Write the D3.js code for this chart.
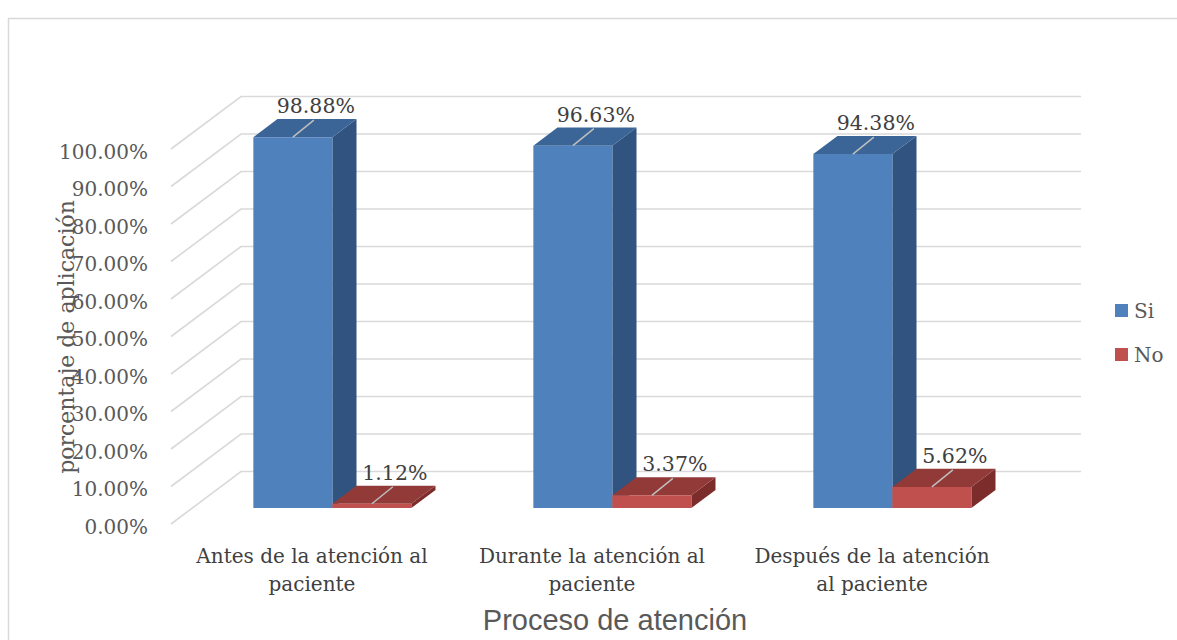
<!DOCTYPE html>
<html>
<head>
<meta charset="utf-8">
<script src="https://cdn.jsdelivr.net/npm/d3@7"></script>
<style>
  html, body { margin: 0; padding: 0; background: #ffffff; }
  svg { display: block; }
</style>
</head>
<body>
<svg id="chart" width="1177" height="640"></svg>
<script>
// Aplicación por etapa del proceso de atención
const categories = [
  "Antes de la atención al paciente",
  "Durante la atención al paciente",
  "Después de la atención al paciente"
];
const seriesNames = ["Si", "No"];
const siValues = [0.9888, 0.9663, 0.9438];
const noValues = [0.0112, 0.0337, 0.0562];
const yTicks = [0, 0.1, 0.2, 0.3, 0.4, 0.5, 0.6, 0.7, 0.8, 0.9, 1.0];
const yTitle = "porcentaje de aplicación";
const xTitle = "Proceso de atención";

const seriesValues = { "Si": siValues, "No": noValues };
const colors = {
  "Si": { front: "#4F81BD", top: "#3B6596", side: "#30537F" },
  "No": { front: "#C0504D", top: "#923A38", side: "#7C2D2B" }
};

const svg = d3.select("#chart");
const W = 1177, H = 640;

// Chart frame
svg.append("rect")
  .attr("x", 8.5).attr("y", 18.5)
  .attr("width", W + 20).attr("height", H + 20)
  .attr("fill", "none").attr("stroke", "#D9D9D9").attr("stroke-width", 1.5);

// 3D oblique projection: front plane + depth offset
const X0 = 171, PLOT_W = 840;
const DX = 70, DY = 52.5;   // full depth offset of the back wall
const Z0 = 0.305, Z1 = 0.65; // depth span occupied by the bars

const x = d3.scaleBand().domain(categories).range([X0, X0 + PLOT_W]).paddingInner(0).paddingOuter(0);
const xs = d3.scaleBand().domain(seriesNames).range([0, x.bandwidth()]).paddingInner(0).paddingOuter(0.772);
const y = d3.scaleLinear().domain([0, 1]).range([524, 149]);

const proj = (px, v, z) => [px + z * DX, y(v) - z * DY];

// Gridlines: left side wall diagonals and back wall horizontals
const grid = svg.append("g").attr("stroke", "#D9D9D9").attr("stroke-width", 1.6).attr("fill", "none");
yTicks.forEach(t => {
  const a = proj(X0, t, 0), b = proj(X0, t, 1), c = proj(X0 + PLOT_W, t, 1);
  grid.append("path").attr("d", `M${a[0]},${a[1]}L${b[0]},${b[1]}L${c[0]},${c[1]}`);
});

// Y axis tick labels
const yAxis = d3.axisLeft(y).tickValues(yTicks).tickFormat(d3.format(".2%")).tickSize(0).tickPadding(0);
const yg = svg.append("g").attr("transform", "translate(148,3)").call(yAxis);
yg.select(".domain").remove();
yg.selectAll("text")
  .attr("font-family", "'DejaVu Serif', serif").attr("font-size", 20).attr("fill", "#595959");

// Bars
const barsG = svg.append("g");
const labelsG = svg.append("g");
const poly = pts => "M" + pts.map(p => p.join(",")).join("L") + "Z";

categories.forEach((cat, i) => {
  seriesNames.forEach(s => {
    const v = seriesValues[s][i];
    const xl = x(cat) + xs(s), xr = xl + xs.bandwidth();
    const c = colors[s];
    const fbl = proj(xl, 0, Z0), fbr = proj(xr, 0, Z0);
    const ftl = proj(xl, v, Z0), ftr = proj(xr, v, Z0);
    const btl = proj(xl, v, Z1), btr = proj(xr, v, Z1), bbr = proj(xr, 0, Z1);
    // right side face
    barsG.append("path").attr("d", poly([fbr, ftr, btr, bbr])).attr("fill", c.side);
    // top face
    barsG.append("path").attr("d", poly([ftl, ftr, btr, btl])).attr("fill", c.top);
    // front face
    barsG.append("path").attr("d", poly([fbl, ftl, ftr, fbr])).attr("fill", c.front);

    // data label with leader line
    const cx = (ftl[0] + ftr[0]) / 2, ty = ftl[1];
    labelsG.append("line")
      .attr("x1", cx).attr("y1", ty)
      .attr("x2", cx + 21).attr("y2", ty - 17)
      .attr("stroke", "#BFBFBF").attr("stroke-width", 1.5);
    labelsG.append("text")
      .attr("x", cx + 23).attr("y", ty - 24)
      .attr("text-anchor", "middle")
      .attr("font-family", "'DejaVu Serif', serif").attr("font-size", 20.5)
      .attr("fill", "#404040")
      .text(d3.format(".2%")(v));
  });
});

// Category labels (wrapped)
const catG = svg.append("g")
  .attr("font-family", "'DejaVu Serif', serif").attr("font-size", 20).attr("fill", "#404040")
  .attr("text-anchor", "middle");
categories.forEach(cat => {
  const cxl = x(cat) + x.bandwidth() / 2 + 1;
  const t = catG.append("text").attr("x", cxl).attr("y", 563);
  const words = cat.split(" ");
  let line = [];
  let ts = t.append("tspan").attr("x", cxl).attr("dy", 0);
  words.forEach(w => {
    line.push(w);
    ts.text(line.join(" "));
    if (ts.node().getComputedTextLength() > 245 && line.length > 1) {
      line.pop();
      ts.text(line.join(" "));
      line = [w];
      ts = t.append("tspan").attr("x", cxl).attr("dy", 28).text(w);
    }
  });
});

// Axis titles
svg.append("text")
  .attr("x", 615).attr("y", 630)
  .attr("text-anchor", "middle")
  .attr("font-family", "'Liberation Sans', Arial, sans-serif").attr("font-size", 29)
  .attr("fill", "#595959")
  .text(xTitle);

svg.append("text")
  .attr("transform", "translate(73.5,337) rotate(-90)")
  .attr("text-anchor", "middle")
  .attr("font-family", "'DejaVu Serif', serif").attr("font-size", 22)
  .attr("fill", "#595959")
  .text(yTitle);

// Legend
const leg = svg.append("g");
seriesNames.forEach((s, i) => {
  const yy = 304 + i * 44;
  leg.append("rect").attr("x", 1115).attr("y", yy).attr("width", 13).attr("height", 13).attr("fill", colors[s].front);
  leg.append("text").attr("x", 1134).attr("y", yy + 14)
    .attr("font-family", "'DejaVu Serif', serif").attr("font-size", 20).attr("fill", "#595959")
    .text(s);
});
</script>
</body>
</html>
